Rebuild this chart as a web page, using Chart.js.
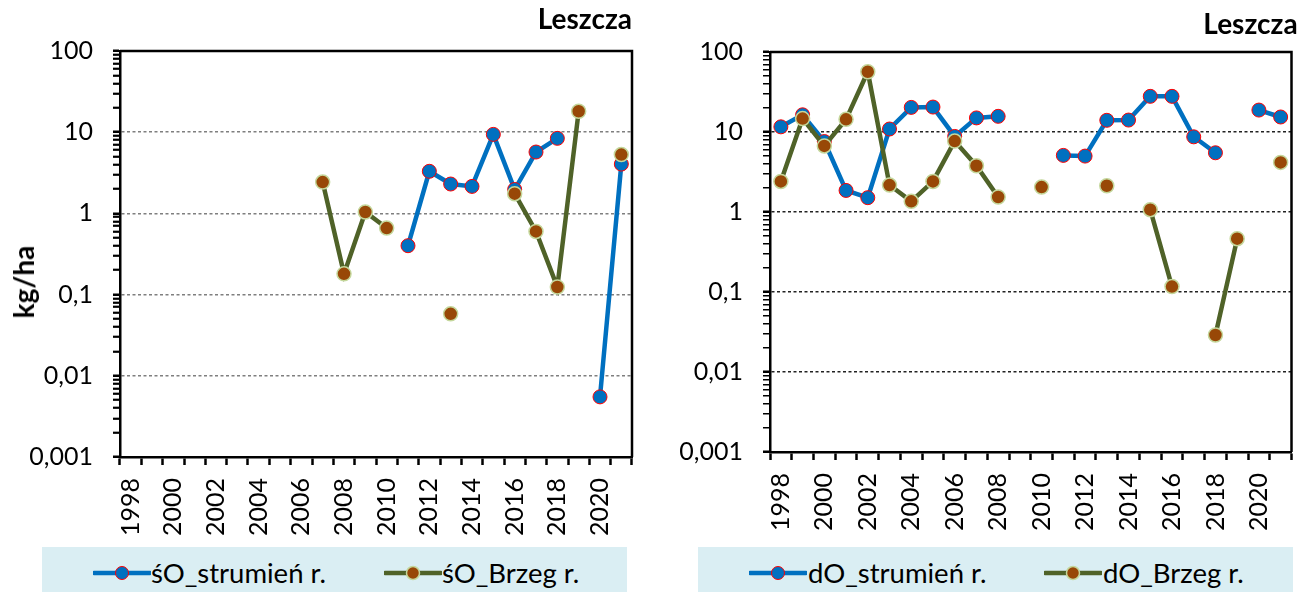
<!DOCTYPE html>
<html><head><meta charset="utf-8">
<script src="https://cdn.jsdelivr.net/npm/chart.js@4/dist/chart.umd.min.js"></script>
<style>
body{margin:0;width:1300px;height:592px;position:relative;overflow:hidden;background:#fff;font-family:Lato,sans-serif;color:#000}
.wrap{position:absolute;top:0;width:650px;height:545px}
.ytitle{position:absolute;left:23px;top:282px;transform:translate(-50%,-50%) rotate(-90deg);font-weight:bold;font-size:28px;white-space:nowrap}
.legend{position:absolute;top:547px;height:45px;background:#DAEEF3}
.sym{position:absolute;top:563px}
.txt{position:absolute;top:559px;font-size:27.5px;line-height:27px;white-space:nowrap}
</style></head>
<body>
<div class="wrap" style="left:0"><canvas id="c1" width="650" height="545"></canvas></div>
<div class="wrap" style="left:650px"><canvas id="c2" width="650" height="545"></canvas></div>
<div class="ytitle">kg/ha</div>
<div class="legend" style="left:42px;width:585px"></div>
<div class="legend" style="left:698px;width:595px"></div>
<div id="leg"></div>
<script>
// ---- data ----
const years = ['1998','1999','2000','2001','2002','2003','2004','2005','2006','2007','2008','2009','2010','2011','2012','2013','2014','2015','2016','2017','2018','2019','2020','2021'];
const decades = [0.001, 0.01, 0.1, 1, 10, 100];
const decadeLabels = ['0,001', '0,01', '0,1', '1', '10', '100'];
const titleText = 'Leszcza';
const yTitle = 'kg/ha';

const sO_strumien = [null,null,null,null,null,null,null,null,null,null,null,null,null, 0.40, 3.3, 2.3, 2.15, 9.4, 1.97, 5.7, 8.4, null, 0.0055, 4.05];
const sO_brzeg    = [null,null,null,null,null,null,null,null,null, 2.43, 0.18, 1.04, 0.66, null, null, 0.058, null, null, 1.75, 0.6, 0.124, 18.1, null, 5.3];
const dO_strumien = [11.6, 16.4, 7.6, 1.86, 1.51, 10.9, 20.3, 20.5, 8.8, 15.0, 15.7, null, null, 5.1, 5.0, 14.0, 14.1, 27.9, 27.9, 8.7, 5.5, null, 18.8, 15.4];
const dO_brzeg    = [2.41, 14.7, 6.7, 14.4, 56.7, 2.17, 1.36, 2.41, 7.7, 3.79, 1.54, null, 2.05, null, null, 2.13, null, 1.07, 0.117, null, 0.029, 0.464, null, 4.17];

const seriesNames = {
  left: ['śO_strumień r.', 'śO_Brzeg r.'],
  right: ['dO_strumień r.', 'dO_Brzeg r.']
};

// ---- styling ----
const BLUE = '#0070C0', RED = '#FF0000', GREEN = '#4F6228', BROWN = '#984807', LIGHTGREEN = '#C4D79B';

const tickValues = [];
decades.forEach(d => { if (d < 100) { for (let k = 1; k <= 9; k++) tickValues.push(+(d * k).toPrecision(6)); } else tickValues.push(d); });
const decadeIndex = v => decades.findIndex(d => Math.abs(d - v) / d < 1e-6);

const frame = {
  id: 'frame',
  afterDraw(chart) {
    const {ctx, chartArea: a} = chart;
    ctx.save();
    ctx.strokeStyle = '#000';
    ctx.lineWidth = 2.5;
    ctx.beginPath();
    ctx.moveTo(a.left, a.top);
    ctx.lineTo(a.right, a.top);
    ctx.lineTo(a.right, a.bottom);
    ctx.stroke();
    ctx.restore();
  }
};

function makeChart(id, names, dStr, dBrz, cfg) {
  return new Chart(document.getElementById(id), {
    type: 'line',
    data: {
      labels: years,
      datasets: [
        { label: names[0], data: dStr, borderColor: BLUE, borderWidth: 4.5, pointBackgroundColor: BLUE,
          pointBorderColor: RED, pointBorderWidth: 1, pointRadius: 7, spanGaps: false, tension: 0, order: 1 },
        { label: names[1], data: dBrz, borderColor: GREEN, borderWidth: 4.5, pointBackgroundColor: BROWN,
          pointBorderColor: LIGHTGREEN, pointBorderWidth: 1.5, pointRadius: 7, spanGaps: false, tension: 0, order: 0 }
      ]
    },
    options: {
      responsive: false,
      animation: false,
      events: [],
      layout: { padding: { left: 0, right: cfg.padRight, top: 0, bottom: 0 } },
      plugins: {
        legend: { display: false },
        tooltip: { enabled: false },
        title: { display: true, text: titleText, align: 'end', color: '#000',
          font: { family: 'Lato', size: 28, weight: 'bold', lineHeight: 1.2 },
          padding: { top: cfg.titleTop, bottom: cfg.titleBottom } }
      },
      scales: {
        x: {
          type: 'category', offset: true,
          grid: { offset: true, drawOnChartArea: false, drawTicks: true, tickLength: 8, tickColor: '#000', tickWidth: 2.5 },
          border: { color: '#000', width: 2.5 },
          ticks: { autoSkip: false, maxRotation: 90, minRotation: 90, padding: 13, color: '#000',
            font: { family: 'Lato', size: 25 },
            callback: (v, i) => (i % 2 === 0 ? years[i] : '') },
          afterFit: s => { s.height = cfg.xHeight; s.paddingLeft = 0; s.paddingRight = 0; }
        },
        y: {
          type: 'logarithmic', min: 0.001, max: 100,
          afterBuildTicks: s => { s.ticks = tickValues.map(v => ({ value: v, major: decadeIndex(v) >= 0 })); },
          ticks: { autoSkip: false, padding: 20, color: '#000', font: { family: 'Lato', size: 25 },
            callback: v => { const k = decadeIndex(v); return k >= 0 ? decadeLabels[k] : ''; } },
          grid: {
            color: c => { const v = c.tick ? c.tick.value : 0; const k = decadeIndex(v); return (k > 0 && k < decades.length - 1) ? cfg.gridColor : 'rgba(0,0,0,0)'; },
            lineWidth: 1.5, tickLength: 7, tickColor: '#000',
            tickWidth: c => (c.tick && decadeIndex(c.tick.value) >= 0 ? 2.5 : cfg.minorTickWidth)
          },
          border: { color: '#000', width: 2.5, dash: [3, 2.5] },
          afterFit: s => { s.width = 120; }
        }
      }
    },
    plugins: [frame]
  });
}

makeChart('c1', seriesNames.left, sO_strumien, sO_brzeg,
  { padRight: 18, titleTop: 3, titleBottom: 14.4, xHeight: 88, gridColor: '#7F7F7F', minorTickWidth: 2.2 });
makeChart('c2', seriesNames.right, dO_strumien, dO_brzeg,
  { padRight: 2.4, titleTop: 8, titleBottom: 10.4, xHeight: 93, gridColor: '#222', minorTickWidth: 1.5 });

// ---- legends (HTML) ----
function legendItem(x, textX, text, line, fill, stroke, sw) {
  const svg = `<svg class="sym" style="left:${x}px" width="58" height="20"><line x1="1" y1="10" x2="57" y2="10" stroke="${line}" stroke-width="4.5" stroke-linecap="round"/><circle cx="29" cy="10" r="6.5" fill="${fill}" stroke="${stroke}" stroke-width="${sw}"/></svg>`;
  return svg + `<div class="txt" style="left:${textX}px">${text}</div>`;
}
document.getElementById('leg').innerHTML =
  legendItem(93, 151, seriesNames.left[0], BLUE, BLUE, RED, 1) +
  legendItem(384, 442, seriesNames.left[1], GREEN, BROWN, LIGHTGREEN, 1.5) +
  legendItem(749, 808, seriesNames.right[0], BLUE, BLUE, RED, 1) +
  legendItem(1044, 1103, seriesNames.right[1], GREEN, BROWN, LIGHTGREEN, 1.5);
document.querySelector('.ytitle').textContent = yTitle;
</script>
</body></html>
